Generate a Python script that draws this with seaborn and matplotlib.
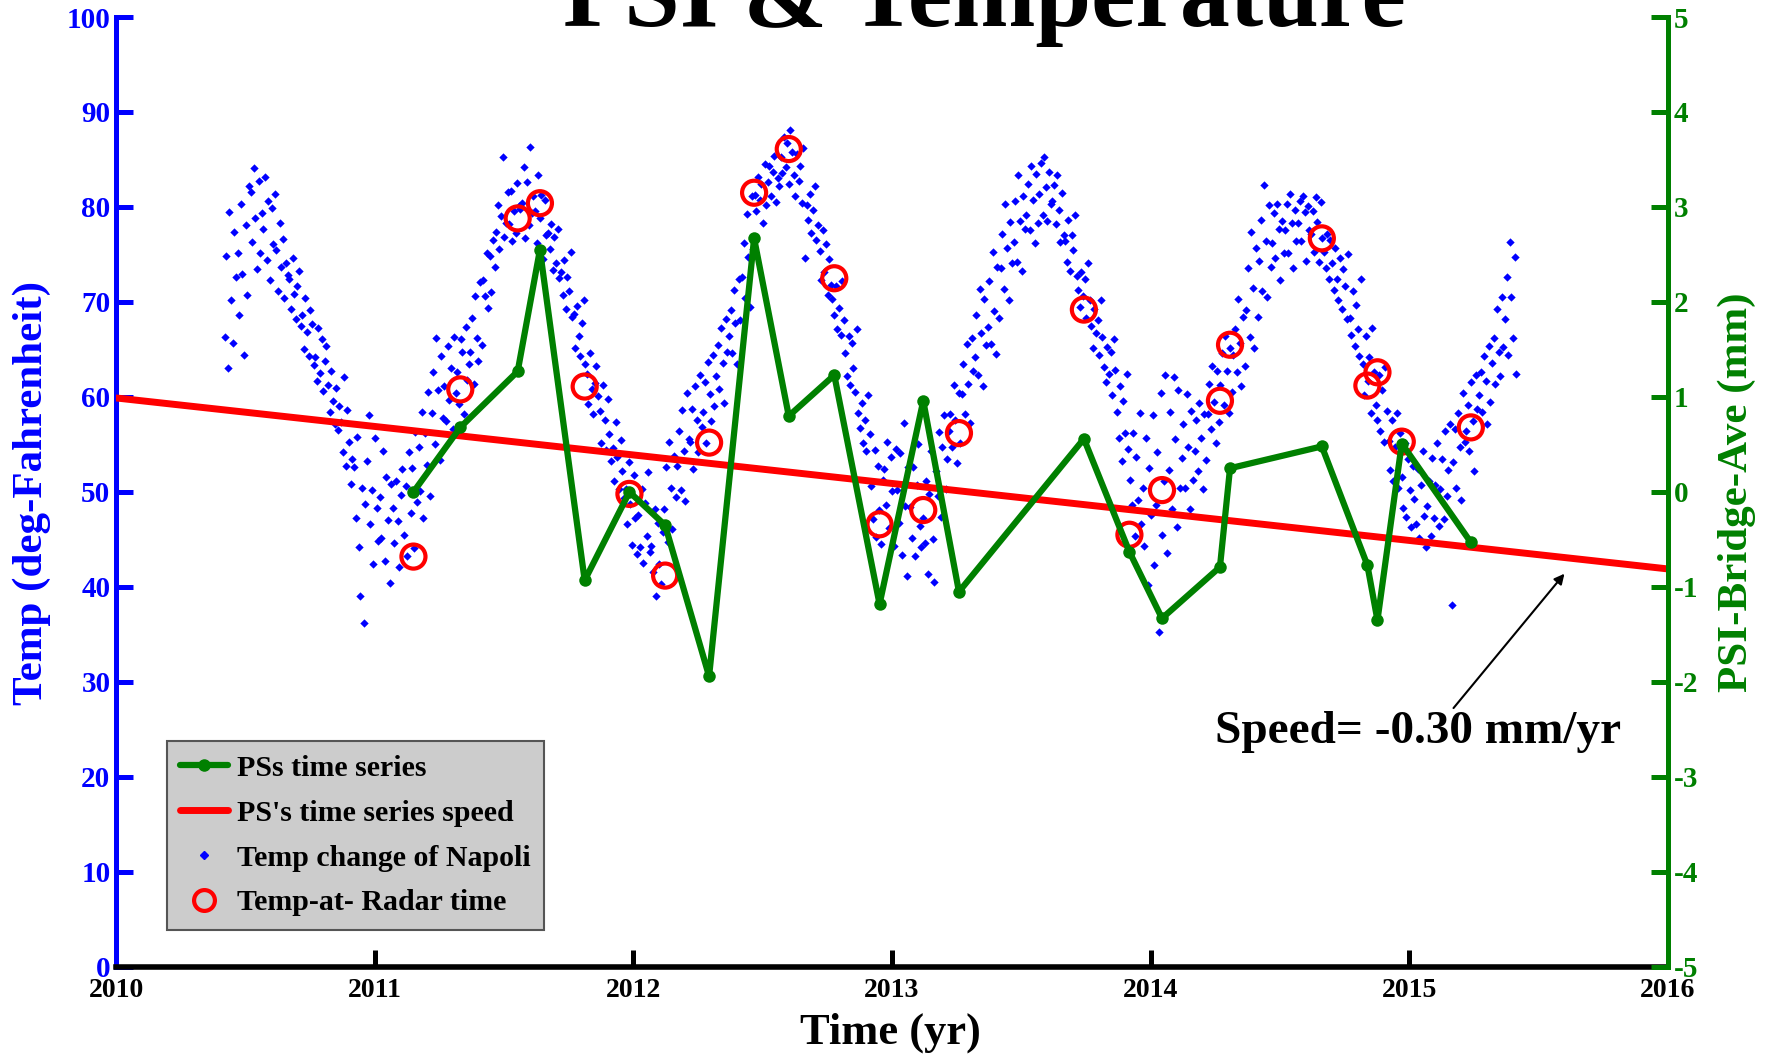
import numpy as np
import pandas as pd
import seaborn as sns
import matplotlib.pyplot as plt
from matplotlib.lines import Line2D

# PS time series at the radar acquisition dates (right axis, mm)
ps_year = [2011.150, 2011.331, 2011.553, 2011.639, 2011.812, 2011.985, 2012.123, 2012.293,
           2012.467, 2012.601, 2012.777, 2012.952, 2013.121, 2013.259, 2013.742, 2013.918,
           2014.044, 2014.268, 2014.307, 2014.662, 2014.838, 2014.877, 2014.971, 2015.238]
ps_mm = [0.00, 0.68, 1.27, 2.55, -0.93, 0.00, -0.35, -1.94,
         2.67, 0.80, 1.23, -1.18, 0.96, -1.05, 0.56, -0.63,
         -1.33, -0.79, 0.25, 0.48, -0.77, -1.35, 0.51, -0.53]
# temperature at radar time (left axis, deg F)
radar_temp = [43.2, 60.8, 78.8, 80.4, 61.1, 49.8, 41.2, 55.2,
              81.5, 86.1, 72.5, 46.6, 48.1, 56.2, 69.2, 45.5,
              50.2, 59.6, 65.5, 76.7, 61.2, 62.6, 55.3, 56.8]

# linear trend of the PS series
speed_year = [2010.0, 2016.0]
speed_mm = [0.99, -0.81]

# daily temperature of Napoli, read in blocks of 8 samples (one block = 0.05 yr)
napoli_start = 2010.42
napoli_step = 0.00625
napoli_temp = [
    [66.3, 74.8, 63.1, 79.5, 70.2, 65.7, 77.4, 72.6], [75.2, 68.6, 80.3, 72.9, 64.4, 78.1, 70.7, 82.2],
    [81.6, 76.3, 84.1, 78.8, 73.5, 82.7, 75.2, 79.4], [77.7, 83.2, 74.4, 80.6, 72.3, 79.9, 76.1, 81.4],
    [75.5, 71.2, 78.3, 73.7, 76.6, 70.4, 74.1, 72.8], [72.4, 69.3, 74.6, 70.8, 68.2, 71.7, 73.3, 67.5],
    [68.6, 65.1, 70.4, 66.8, 64.3, 69.2, 67.7, 63.4], [64.2, 61.7, 67.3, 62.5, 66.1, 60.6, 63.8, 65.4],
    [61.3, 58.4, 62.7, 59.6, 57.2, 60.9, 56.5, 59.1], [57.4, 54.2, 62.1, 52.7, 58.6, 55.3, 50.8, 53.5],
    [52.6, 47.3, 55.8, 44.2, 39.1, 50.4, 36.2, 48.7], [53.3, 58.1, 46.6, 50.2, 42.4, 55.7, 48.3, 44.8],
    [49.5, 45.2, 54.3, 42.7, 51.6, 47.1, 40.4, 50.8], [48.3, 44.6, 51.2, 46.9, 42.1, 49.7, 52.4, 45.5],
    [50.6, 43.3, 54.2, 47.8, 52.5, 44.1, 56.3, 48.9], [54.7, 50.1, 58.4, 47.3, 56.2, 52.8, 60.5, 49.6],
    [58.3, 62.6, 55.1, 66.2, 60.7, 53.4, 64.3, 57.8], [61.2, 57.5, 65.4, 59.7, 63.1, 56.6, 66.3, 60.4],
    [62.6, 59.3, 66.1, 64.7, 58.2, 67.4, 61.8, 63.5], [64.7, 68.3, 61.4, 70.6, 66.2, 63.8, 72.1, 65.5],
    [72.3, 70.6, 75.2, 69.4, 74.8, 71.1, 76.5, 73.7], [77.4, 80.2, 75.6, 79.1, 85.3, 76.8, 78.3, 81.6],
    [78.2, 81.7, 76.4, 79.6, 77.3, 82.5, 80.1, 79.8], [80.4, 84.2, 76.7, 82.6, 78.1, 86.3, 79.4, 81.2],
    [79.6, 76.2, 83.4, 78.8, 81.3, 74.5, 80.7, 77.1], [77.3, 75.6, 78.2, 73.4, 76.8, 74.1, 77.7, 72.5],
    [73.2, 70.7, 74.4, 69.3, 72.6, 71.2, 75.3, 68.4], [68.7, 65.2, 69.6, 66.4, 64.3, 67.8, 70.2, 63.5],
    [62.4, 59.3, 64.6, 60.8, 58.2, 61.5, 63.3, 60.1], [58.5, 55.2, 61.3, 57.6, 54.4, 59.8, 56.1, 53.3],
    [54.6, 51.2, 57.4, 53.7, 50.3, 55.5, 52.2, 49.4], [50.3, 46.6, 53.2, 48.7, 44.4, 51.8, 47.3, 43.5],
    [47.6, 44.2, 50.3, 42.5, 48.8, 45.4, 52.1, 43.7], [44.3, 41.6, 48.2, 39.1, 46.7, 42.4, 40.3, 45.8],
    [48.2, 52.6, 44.7, 55.3, 50.4, 46.1, 53.8, 49.5], [52.7, 56.4, 50.2, 58.6, 54.3, 49.1, 60.4, 55.6],
    [55.3, 58.7, 52.4, 61.2, 57.6, 54.2, 62.3, 56.8], [58.4, 61.6, 55.2, 63.7, 60.3, 57.5, 64.4, 59.1],
    [62.2, 65.5, 60.8, 67.3, 63.6, 59.4, 68.2, 64.7], [66.4, 69.2, 64.6, 71.3, 67.8, 63.5, 72.4, 68.1],
    [72.6, 76.2, 70.4, 79.3, 74.7, 69.5, 81.2, 75.6], [81.3, 79.6, 83.2, 80.7, 82.4, 78.3, 84.5, 80.2],
    [82.6, 84.3, 81.2, 83.7, 85.4, 80.5, 83.1, 82.2], [85.3, 83.6, 87.4, 84.2, 86.7, 82.4, 88.1, 85.8],
    [83.4, 81.2, 85.6, 82.7, 84.3, 80.4, 86.2, 74.6], [80.2, 78.6, 81.4, 77.3, 79.7, 82.2, 76.5, 78.1],
    [75.4, 72.3, 77.6, 73.2, 76.1, 70.7, 74.5, 71.8], [70.3, 68.6, 71.7, 67.2, 69.4, 66.5, 72.2, 68.1],
    [64.6, 62.2, 66.4, 61.3, 65.7, 63.1, 60.5, 67.2], [58.3, 56.7, 59.4, 55.2, 57.6, 54.3, 60.2, 56.1],
    [50.6, 47.2, 54.4, 45.3, 52.7, 48.1, 44.5, 51.3], [52.4, 48.6, 55.3, 46.2, 53.7, 50.1, 44.3, 54.5],
    [50.2, 46.7, 54.1, 43.4, 57.3, 48.5, 41.2, 52.6], [48.4, 45.2, 52.6, 43.3, 50.7, 55.1, 46.4, 44.2],
    [47.3, 44.6, 51.2, 41.4, 49.8, 54.3, 45.1, 40.5], [52.2, 49.6, 56.3, 47.4, 54.7, 58.1, 50.3, 53.5],
    [56.4, 58.2, 54.7, 61.3, 57.6, 53.1, 60.4, 55.2], [60.3, 63.5, 58.2, 65.6, 61.4, 57.3, 66.2, 62.7],
    [64.2, 68.6, 62.3, 71.4, 66.7, 61.2, 70.3, 65.5], [67.4, 72.2, 65.6, 75.3, 69.1, 64.5, 73.7, 68.3],
    [73.6, 77.2, 71.4, 80.3, 75.7, 70.2, 78.4, 74.1], [76.3, 80.6, 74.2, 83.4, 78.5, 73.3, 81.2, 77.7],
    [79.2, 82.4, 77.6, 84.3, 80.7, 76.2, 83.5, 78.3], [81.4, 84.6, 79.2, 85.3, 82.1, 78.5, 83.7, 80.3],
    [80.6, 82.3, 78.2, 83.4, 79.7, 76.3, 81.5, 77.1], [76.4, 74.2, 78.6, 73.3, 77.1, 75.5, 79.2, 72.7],
    [71.3, 69.5, 73.2, 70.6, 72.4, 68.3, 74.1, 70.2], [67.5, 65.2, 69.3, 66.7, 68.1, 64.4, 70.2, 66.3],
    [63.2, 61.6, 65.3, 62.4, 64.7, 60.2, 66.1, 62.8], [58.4, 55.7, 61.2, 53.3, 59.6, 56.2, 62.4, 54.5],
    [51.3, 48.6, 56.2, 45.4, 53.7, 49.2, 58.3, 46.6], [50.4, 44.3, 55.7, 40.2, 52.5, 47.6, 58.1, 42.3],
    [48.6, 54.2, 35.3, 60.4, 45.5, 51.2, 62.3, 43.6], [52.3, 58.4, 48.2, 62.1, 55.6, 46.3, 60.7, 50.4],
    [53.6, 57.2, 50.4, 60.3, 54.7, 48.2, 58.5, 51.3], [54.3, 57.6, 52.2, 59.4, 55.7, 50.3, 58.2, 53.4],
    [58.2, 61.4, 56.6, 63.3, 59.5, 55.2, 62.7, 57.4], [61.3, 64.6, 59.2, 66.4, 62.7, 58.3, 65.2, 60.5],
    [64.4, 67.2, 62.6, 70.3, 65.7, 61.2, 68.4, 63.3], [69.2, 73.6, 66.3, 77.4, 71.5, 65.2, 75.7, 68.4],
    [74.3, 78.6, 71.2, 82.3, 76.4, 70.5, 80.2, 73.7], [76.2, 79.4, 74.6, 80.3, 77.7, 72.3, 78.5, 75.2],
    [77.6, 80.3, 75.2, 81.4, 78.3, 73.6, 79.7, 76.4], [78.3, 80.6, 76.4, 81.2, 79.5, 74.3, 80.1, 77.6],
    [77.2, 79.6, 75.3, 81.1, 78.4, 74.2, 80.5, 76.7], [75.3, 73.6, 77.2, 72.4, 76.5, 74.1, 71.3, 75.7],
    [72.4, 70.2, 74.6, 69.3, 73.5, 71.7, 68.2, 75.1], [68.3, 66.5, 71.2, 65.4, 69.7, 67.2, 64.3, 72.4],
    [63.5, 60.2, 66.4, 61.7, 64.2, 58.3, 67.3, 62.6], [59.2, 57.6, 62.3, 56.4, 60.7, 55.3, 63.2, 58.5],
    [55.4, 52.3, 57.6, 51.2, 54.7, 58.3, 50.4, 56.2], [51.6, 48.3, 55.2, 47.4, 53.5, 50.2, 46.3, 52.7],
    [49.3, 46.6, 52.4, 45.2, 50.7, 54.3, 47.5, 44.2], [48.5, 51.2, 45.4, 53.6, 47.3, 50.7, 55.2, 46.4],
    [50.3, 53.5, 47.2, 56.4, 49.6, 52.3, 57.2, 38.1], [53.2, 56.6, 50.4, 58.3, 54.7, 49.2, 60.4, 55.3],
    [56.4, 59.2, 54.3, 61.6, 57.5, 52.2, 62.3, 58.7], [60.2, 62.6, 58.4, 64.3, 61.7, 57.2, 65.4, 59.5],
    [63.6, 66.2, 61.4, 69.3, 64.7, 62.2, 70.5, 65.3], [68.2, 72.6, 64.4, 76.3, 70.5, 66.2, 74.7, 62.4],
]

temps = [t for block in napoli_temp for t in block]
napoli = pd.DataFrame({'year': napoli_start + napoli_step * np.arange(len(temps)),
                       'temp': temps})

sns.set_style('white')
plt.rcParams['font.family'] = ['Liberation Serif', 'DejaVu Serif']
plt.rcParams['font.weight'] = 'bold'
plt.rcParams['text.color'] = 'black'
plt.rcParams['axes.unicode_minus'] = False

fig = plt.figure(figsize=(17.71, 10.56), dpi=100)
ax = fig.add_axes([0.0655, 0.0843, 0.8763, 0.8996])
ax2 = ax.twinx()

# left axis: temperatures
sns.scatterplot(data=napoli, x='year', y='temp', ax=ax, color='blue', marker='D',
                s=18, linewidth=0, zorder=2)
sns.scatterplot(x=ps_year, y=radar_temp, ax=ax, marker='o', s=300,
                facecolors='none', edgecolors='red', linewidths=3, zorder=3)

# right axis: PS series and speed
sns.lineplot(x=speed_year, y=speed_mm, ax=ax2, color='red', linewidth=5)
sns.lineplot(x=ps_year, y=ps_mm, ax=ax2, color='green', linewidth=4.5, marker='o',
             markersize=9, markeredgewidth=0, sort=False, estimator=None)

ax.set_xlim(2010, 2016)
ax.set_ylim(0, 100)
ax2.set_ylim(-5, 5)
years = list(range(2010, 2017))
ax.set_xticks(years, [str(y) for y in years])
ax.set_yticks(range(0, 101, 10))
ax2.set_yticks(range(-5, 6))
ax.set_xlabel('')
ax.set_ylabel('')
ax2.set_ylabel('')

for s in ['top', 'right']:
    ax.spines[s].set_visible(False)
for s in ['top', 'left', 'bottom']:
    ax2.spines[s].set_visible(False)
ax.spines['left'].set_color('blue')
ax.spines['left'].set_linewidth(3.6)
ax.spines['bottom'].set_color('black')
ax.spines['bottom'].set_linewidth(4)
ax2.spines['right'].set_color('green')
ax2.spines['right'].set_linewidth(3.6)

ax.tick_params(axis='y', direction='in', length=12, width=3.6, colors='blue',
               labelsize=21, pad=4, left=True)
ax.tick_params(axis='x', direction='in', length=12, width=3.6, colors='black',
               labelsize=20, pad=8, bottom=True)
ax2.tick_params(axis='y', direction='in', length=12, width=3.6, colors='green',
                labelsize=21, pad=4, right=True)

fig.text(0.0181, 0.5336, 'Temp (deg-Fahrenheit)', rotation=90, ha='center', va='center',
         color='blue', fontsize=31, fontweight='bold')
fig.text(0.9808, 0.5336, 'PSI-Bridge-Ave (mm)', rotation=90, ha='center', va='center',
         color='green', fontsize=31, fontweight='bold')
fig.text(0.5026, 0.0218, 'Time (yr)', ha='center', va='center', fontsize=32,
         fontweight='bold')
fig.text(0.5556, 0.9754, 'PSI & Temperature', ha='center', va='baseline', fontsize=72,
         fontweight='bold', color='black')

ax2.annotate('Speed= -0.30 mm/yr', xy=(2015.60, -0.86), xytext=(2015.035, -2.53),
             ha='center', va='center', fontsize=34, fontweight='bold',
             arrowprops=dict(arrowstyle='-|>', color='black', lw=1.5, relpos=(0.58, 1.0),
                             shrinkA=0, shrinkB=0, mutation_scale=15))

handles = [
    Line2D([], [], color='green', lw=4.5, marker='o', markersize=8),
    Line2D([], [], color='red', lw=5),
    Line2D([], [], color='blue', ls='', marker='D', markersize=4),
    Line2D([], [], color='red', ls='', marker='o', markersize=15, mfc='none', mew=3),
]
labels = ['PSs time series', "PS's time series speed", 'Temp change of Napoli',
          'Temp-at- Radar time']
leg = ax2.legend(handles, labels, loc='lower left', bbox_to_anchor=(0.0329, 0.039),
                 borderaxespad=0, frameon=True, fancybox=False, facecolor='#cccccc',
                 edgecolor='#555555', framealpha=1, fontsize=21.5, handlelength=1.6,
                 handletextpad=0.3, labelspacing=0.6, borderpad=0.45)
leg.get_frame().set_linewidth(1.5)

fig.savefig('out.png', dpi=100)
